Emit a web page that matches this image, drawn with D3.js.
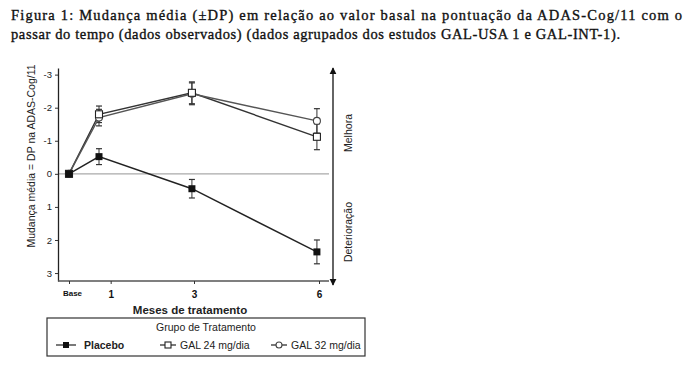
<!DOCTYPE html>
<html>
<head>
<meta charset="utf-8">
<script src="https://cdn.jsdelivr.net/npm/d3@7"></script>
<style>
body { margin: 0; background: #fff; }
svg { display: block; }
</style>
</head>
<body>
<div id="viz"></div>
<script>
var w = 693;
var h = 369;

// data
var months = [0, 0.72, 2.95, 5.95];
var placebo = [0, -0.52, 0.45, 2.36];
var placeboSD = [0, 0.24, 0.28, 0.36];
var gal24 = [0, -1.8, -2.45, -1.12];
var gal24SD = [0, 0.25, 0.33, 0.39];
var gal32 = [0, -1.7, -2.42, -1.6];
var gal32SD = [0, 0.25, 0.33, 0.37];
var xTicks = [0, 1, 3, 6];
var xTickLabels = ["Base", "1", "3", "6"];
var yTicks = [-3, -2, -1, 0, 1, 2, 3];
var seriesNames = ["Placebo", "GAL 24 mg/dia", "GAL 32 mg/dia"];

var svg = d3.select("#viz")
    .append("svg")
    .attr("width", w)
    .attr("height", h);

// title
var title = svg.append("g")
    .attr("font-family", "Liberation Serif, serif")
    .attr("font-size", 14.5)
    .attr("fill", "#111")
    .attr("stroke", "#111")
    .attr("stroke-width", 0.35);

title.append("text")
    .attr("x", 11)
    .attr("y", 20)
    .attr("textLength", 671)
    .attr("lengthAdjust", "spacing")
    .text("Figura 1: Mudança média (±DP) em relação ao valor basal na pontuação da ADAS-Cog/11 com o");

title.append("text")
    .attr("x", 11)
    .attr("y", 39)
    .attr("textLength", 609)
    .attr("lengthAdjust", "spacing")
    .text("passar do tempo (dados observados) (dados agrupados dos estudos GAL-USA 1 e GAL-INT-1).");

var x = d3.scaleLinear().domain([0, 6]).range([69, 319]);
var y = d3.scaleLinear().domain([-3.2, 3.24]).range([68, 281]);

var plot = svg.append("g")
    .attr("font-family", "Liberation Sans, Arial, sans-serif");

// zero reference line
plot.append("line")
    .attr("x1", 58).attr("x2", 329)
    .attr("y1", y(0)).attr("y2", y(0))
    .attr("stroke", "#aaa")
    .attr("stroke-width", 1.2);

// y axis
var yAxis = d3.axisLeft(y)
    .tickValues(yTicks)
    .tickSize(3)
    .tickSizeOuter(0)
    .tickFormat(function (d) { return d3.format("d")(d).replace("−", "-"); });

var yg = plot.append("g")
    .attr("transform", "translate(58,0)")
    .call(yAxis);
yg.select(".domain").attr("stroke", "#222").attr("stroke-width", 1.3);
yg.selectAll(".tick line").attr("stroke", "#333");
yg.selectAll(".tick text")
    .attr("font-size", 9.5)
    .attr("fill", "#222")
    .attr("font-family", "Liberation Sans, Arial, sans-serif");

// x axis
var xAxis = d3.axisBottom(x)
    .tickValues(xTicks)
    .tickSize(3)
    .tickSizeOuter(0)
    .tickFormat(function (d, i) { return xTickLabels[i]; });

var xg = plot.append("g")
    .attr("transform", "translate(0,281)")
    .call(xAxis);
xg.select(".domain")
    .attr("d", "M58,0H329")
    .attr("stroke", "#555")
    .attr("stroke-width", 1.3);
xg.selectAll(".tick line").attr("stroke", "#333");
xg.selectAll(".tick text")
    .attr("font-size", function (d) { return d == 0 ? 8 : 10; })
    .attr("font-weight", "bold")
    .attr("fill", "#111")
    .attr("dy", "1.1em")
    .attr("dx", function (d) { return d == 0 ? 3 : 0; })
    .attr("font-family", "Liberation Sans, Arial, sans-serif");

plot.append("text")
    .attr("x", 190)
    .attr("y", 314)
    .attr("text-anchor", "middle")
    .attr("font-size", 11.5)
    .attr("font-weight", "bold")
    .attr("fill", "#222")
    .text("Meses de tratamento");

plot.append("text")
    .attr("transform", "translate(35,156) rotate(-90)")
    .attr("text-anchor", "middle")
    .attr("font-size", 10.5)
    .attr("fill", "#222")
    .text("Mudança média = DP na ADAS-Cog/11");

// right arrow
var defs = svg.append("defs");
defs.append("marker")
    .attr("id", "arrow")
    .attr("viewBox", "0 0 10 10")
    .attr("refX", 9).attr("refY", 5)
    .attr("markerWidth", 7).attr("markerHeight", 9)
    .attr("markerUnits", "userSpaceOnUse")
    .attr("orient", "auto-start-reverse")
    .append("path")
    .attr("d", "M0,0L10,5L0,10Z")
    .attr("fill", "#111");

plot.append("line")
    .attr("x1", 333).attr("x2", 333)
    .attr("y1", 68).attr("y2", 285)
    .attr("stroke", "#111")
    .attr("stroke-width", 1.3)
    .attr("marker-start", "url(#arrow)")
    .attr("marker-end", "url(#arrow)");

plot.append("text")
    .attr("transform", "translate(352,133) rotate(-90)")
    .attr("text-anchor", "middle")
    .attr("font-size", 10.5)
    .attr("fill", "#222")
    .text("Melhora");

plot.append("text")
    .attr("transform", "translate(352,232) rotate(-90)")
    .attr("text-anchor", "middle")
    .attr("font-size", 10.5)
    .attr("fill", "#222")
    .text("Deterioração");

// series
var series = [
    { name: seriesNames[0], vals: placebo, sd: placeboSD, shape: "fsquare", stroke: "#222" },
    { name: seriesNames[1], vals: gal24, sd: gal24SD, shape: "osquare", stroke: "#333" },
    { name: seriesNames[2], vals: gal32, sd: gal32SD, shape: "circle", stroke: "#555" }
];

var line = d3.line()
    .x(function (d) { return x(d.m); })
    .y(function (d) { return y(d.v); });

function drawMarker(g, shape, cx, cy, s) {
    if (shape == "fsquare") {
        g.append("rect").attr("x", cx - s / 2).attr("y", cy - s / 2)
            .attr("width", s).attr("height", s).attr("fill", "#111");
    } else if (shape == "osquare") {
        g.append("rect").attr("x", cx - s / 2).attr("y", cy - s / 2)
            .attr("width", s).attr("height", s)
            .attr("fill", "#fff").attr("stroke", "#222").attr("stroke-width", 1.1);
    } else {
        g.append("circle").attr("cx", cx).attr("cy", cy).attr("r", s / 2)
            .attr("fill", "#fff").attr("stroke", "#444").attr("stroke-width", 1.1);
    }
}

var sg = plot.append("g");
series.forEach(function (s) {
    var pts = months.map(function (m, i) { return { m: m, v: s.vals[i], sd: s.sd[i] }; });
    var g = sg.append("g");

    g.append("path")
        .datum(pts)
        .attr("d", line)
        .attr("fill", "none")
        .attr("stroke", s.stroke)
        .attr("stroke-width", 1.4);

    pts.forEach(function (p) {
        if (p.sd > 0) {
            g.append("line")
                .attr("x1", x(p.m)).attr("x2", x(p.m))
                .attr("y1", y(p.v - p.sd)).attr("y2", y(p.v + p.sd))
                .attr("stroke", "#333").attr("stroke-width", 1);
            [p.v - p.sd, p.v + p.sd].forEach(function (e) {
                g.append("line")
                    .attr("x1", x(p.m) - 3).attr("x2", x(p.m) + 3)
                    .attr("y1", y(e)).attr("y2", y(e))
                    .attr("stroke", "#333").attr("stroke-width", 1.2);
            });
        }
    });
});

// markers on top
series.slice().reverse().forEach(function (s) {
    var g = sg.append("g");
    months.forEach(function (m, i) {
        drawMarker(g, s.shape, x(m), y(s.vals[i]), 7);
    });
});

// legend
var lg = svg.append("g")
    .attr("font-family", "Liberation Sans, Arial, sans-serif");

lg.append("rect")
    .attr("x", 47).attr("y", 318)
    .attr("width", 318).attr("height", 38)
    .attr("fill", "#fff")
    .attr("stroke", "#333")
    .attr("stroke-width", 1.2);

lg.append("text")
    .attr("x", 206).attr("y", 331)
    .attr("text-anchor", "middle")
    .attr("font-size", 10.5)
    .attr("fill", "#222")
    .text("Grupo de Tratamento");

var legX = [56, 160, 271];
var legW = [20, 16, 16];
series.forEach(function (s, i) {
    var ly = 345;
    lg.append("line")
        .attr("x1", legX[i]).attr("x2", legX[i] + legW[i])
        .attr("y1", ly).attr("y2", ly)
        .attr("stroke", "#222").attr("stroke-width", 1.2);
    drawMarker(lg, s.shape, legX[i] + legW[i] / 2, ly, 6);
    lg.append("text")
        .attr("x", legX[i] + legW[i] + (i == 0 ? 8 : 4))
        .attr("y", ly + 4)
        .attr("font-size", 10.5)
        .attr("font-weight", i == 0 ? "bold" : "normal")
        .attr("fill", "#222")
        .text(s.name);
});
</script>
</body>
</html>
